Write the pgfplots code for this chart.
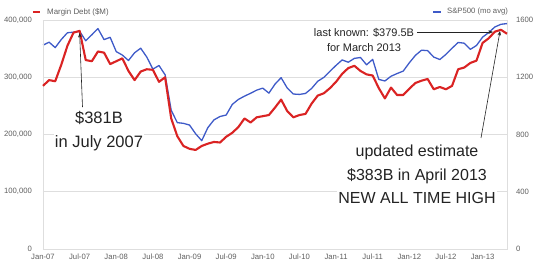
\documentclass[border=0pt]{standalone}
\usepackage{fontspec}
\setmainfont{Liberation Sans}
\usepackage{pgfplots}
\pgfplotsset{compat=1.18}
\usepackage{pgfplotstable}
\usetikzlibrary{arrows.meta}
\definecolor{mred}{RGB}{218,35,35}
\definecolor{mblue}{RGB}{62,90,200}
\definecolor{tickgray}{RGB}{95,95,95}
\definecolor{gridgray}{RGB}{222,222,222}
\definecolor{annot}{RGB}{35,35,35}

\pgfplotstableread{
m margin
0 285000
1 295000
2 293000
3 322000
4 355000
5 378000
6 381000
7 330000
8 328000
9 345000
10 343000
11 323000
12 328000
13 333000
14 311000
15 295000
16 310000
17 314000
18 313000
19 292000
20 300000
21 228000
22 197000
23 180000
24 175000
25 173000
26 180000
27 184000
28 187000
29 186000
30 196000
31 203000
32 213000
33 228000
34 221000
35 230000
36 232000
37 234000
38 247000
39 261000
40 241000
41 230000
42 234000
43 236000
44 254000
45 268000
46 272000
47 281000
48 292000
49 306000
50 316000
51 320000
52 311000
53 305000
54 303000
55 281000
56 263000
57 282000
58 269000
59 269000
60 280000
61 290000
62 294000
63 297000
64 279000
65 283000
66 279000
67 285000
68 314000
69 317000
70 325000
71 329000
72 360000
73 368000
74 379500
75 383000
76 376000
}\margintable

\pgfplotstableread{
m sp
0 1424
1 1445
2 1407
3 1464
4 1511
5 1515
6 1521
7 1455
8 1497
9 1540
10 1463
11 1479
12 1379
13 1355
14 1317
15 1371
16 1403
17 1341
18 1257
19 1282
20 1217
21 969
22 883
23 878
24 866
25 805
26 757
27 848
28 902
29 926
30 936
31 1010
32 1045
33 1068
34 1088
35 1110
36 1124
37 1089
38 1152
39 1197
40 1125
41 1083
42 1080
43 1087
44 1122
45 1172
46 1199
47 1242
48 1283
49 1321
50 1305
51 1332
52 1338
53 1287
54 1325
55 1185
56 1174
57 1207
58 1226
59 1243
60 1301
61 1353
62 1389
63 1386
64 1341
65 1324
66 1360
67 1403
68 1443
69 1438
70 1395
71 1422
72 1480
73 1512
74 1551
75 1570
76 1575
}\sptable

\begin{document}
\begin{tikzpicture}
% right axis (S&P500), with grid and x axis
\begin{axis}[
  width=464pt, height=229pt, scale only axis,
  xmin=0, xmax=76, ymin=0, ymax=1600,
  axis line style={gridgray},
  ytick={0,400,800,1200,1600},
  yticklabels={0,400,800,1200,1600},
  yticklabel pos=right,
  ymajorgrids, grid style={gridgray, line width=0.6pt},
  major tick length=0pt,
  xtick={0,6,...,72},
  xticklabels={Jan-07,Jul-07,Jan-08,Jul-08,Jan-09,Jul-09,Jan-10,Jul-10,Jan-11,Jul-11,Jan-12,Jul-12,Jan-13},
  tick label style={font=\fontsize{7.7}{9}\selectfont, text=tickgray},
  yticklabel style={xshift=5.5pt},
  xticklabel style={yshift=-1.5pt},
  clip=false,
]
\addplot[mblue, line width=1.3pt, line join=round] table[x=m, y=sp]{\sptable};
\end{axis}
% left axis (margin debt)
\begin{axis}[
  width=464pt, height=229pt, scale only axis,
  xmin=0, xmax=76, ymin=0, ymax=400000,
  hide x axis,
  axis y line*=left,
  axis line style={gridgray},
  ytick={0,100000,200000,300000,400000},
  yticklabels={0,{100,000},{200,000},{300,000},{400,000}},
  scaled y ticks=false,
  major tick length=0pt,
  tick label style={font=\fontsize{7.7}{9}\selectfont, text=tickgray},
  yticklabel style={xshift=-7.5pt},
  clip=false,
]
\addplot[mred, line width=2.1pt, line join=round] table[x=m, y=margin]{\margintable};

\node[fill=white, align=center, text=annot, inner sep=1pt,
      font=\fontsize{16.5}{24}\selectfont] at (axis cs:9.17,206000) {\$381B\\in July 2007};
\draw[annot, line width=0.6pt, -{Stealth[length=4.5pt,width=3.5pt]}]
  (axis cs:6.47,248000) -- (axis cs:6.0,377300);

\node[align=center, text=annot, inner sep=1pt,
      font=\fontsize{11}{15}\selectfont] at (axis cs:52.58,365900) {last known: \$379.5B\\for March 2013};
\draw[annot, line width=0.6pt, -{Stealth[length=4.5pt,width=3.5pt]}]
  (axis cs:61.26,379000) -- (axis cs:73.71,379000);

\node[fill=white, align=center, text=annot, inner sep=1.5pt,
      font=\fontsize{16}{23.5}\selectfont] at (axis cs:61.26,130100) {updated estimate\\\$383B in April 2013\\NEW ALL TIME HIGH};
\draw[annot, line width=0.6pt, -{Stealth[length=4.5pt,width=3.5pt]}]
  (axis cs:71.74,193900) -- (axis cs:74.86,380800);
\end{axis}
% legend
\draw[mred, line width=1.6pt] (-10pt,237pt) -- (-3pt,237pt);
\node[anchor=west, inner sep=0pt, text=tickgray, font=\fontsize{7.9}{9}\selectfont] at (4pt,237pt) {Margin Debt (\$M)};
\draw[mblue, line width=1.4pt] (390pt,237pt) -- (398pt,237pt);
\node[anchor=west, inner sep=0pt, text=tickgray, font=\fontsize{7.7}{9}\selectfont] at (404pt,237pt) {S\&P500 (mo avg)};
\pgfresetboundingbox
\path[use as bounding box] (-43pt,-20pt) rectangle (497pt,249pt);
\end{tikzpicture}
\end{document}
